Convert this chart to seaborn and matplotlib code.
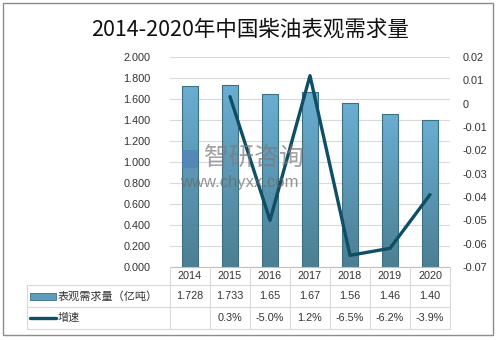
import numpy as np
import pandas as pd
import matplotlib
matplotlib.use("Agg")
import matplotlib.pyplot as plt
import seaborn as sns
from matplotlib.patches import Rectangle
from matplotlib.lines import Line2D

years = ["2014", "2015", "2016", "2017", "2018", "2019", "2020"]
demand = [1.728, 1.733, 1.65, 1.67, 1.56, 1.46, 1.40]
growth = [np.nan, 0.003, -0.050, 0.012, -0.065, -0.062, -0.039]
demand_labels = ["1.728", "1.733", "1.65", "1.67", "1.56", "1.46", "1.40"]
growth_labels = ["", "0.3%", "-5.0%", "1.2%", "-6.5%", "-6.2%", "-3.9%"]
left_ticks = [0.0, 0.2, 0.4, 0.6, 0.8, 1.0, 1.2, 1.4, 1.6, 1.8, 2.0]
right_ticks = [-0.07, -0.06, -0.05, -0.04, -0.03, -0.02, -0.01, 0.0, 0.01, 0.02]
right_tick_labels = ["-0.07", "-0.06", "-0.05", "-0.04", "-0.03", "-0.02", "-0.01", "0", "0.01", "0.02"]
title = "2014-2020年中国柴油表观需求量"
series_names = ["表观需求量（亿吨）", "增速"]

sns.set_theme(style="white")
plt.rcParams['font.family'] = ['Liberation Sans', 'Noto Sans CJK SC', 'DejaVu Sans']

W, H = 498, 340
fig = plt.figure(figsize=(W / 100, H / 100), dpi=100)

def fx(px):
    return px / W

def fy(py):
    return 1 - py / H

txt_c = "#333333"
ax_l, ax_r, ax_t, ax_b = 170, 450, 57, 267
ax = fig.add_axes([fx(ax_l), fy(ax_b), fx(ax_r - ax_l), (ax_b - ax_t) / H])

df = pd.DataFrame({"year": years, "demand": demand, "growth": growth})
bar_color = "#5b9bb8"
sns.barplot(data=df, x="year", y="demand", ax=ax, color=bar_color, width=0.42,
            edgecolor="#3d6f82", linewidth=0.8, saturation=1)

# gradient fill
grad = np.linspace(0, 1, 256).reshape(-1, 1)
cmap = matplotlib.colors.LinearSegmentedColormap.from_list("g", ["#4c7f93", "#6aaed3"])
for p in ax.patches:
    x0, y0 = p.get_x(), p.get_y()
    w, h = p.get_width(), p.get_height()
    im = ax.imshow(grad, extent=[x0, x0 + w, y0, y0 + h], origin="lower",
                   cmap=cmap, aspect="auto", zorder=p.get_zorder() + 0.1)
    im.set_clip_path(p)
    p.set_facecolor("none")
    p.set_zorder(p.get_zorder() + 0.2)

ax.set_xlim(-0.5, 6.5)
ax.set_ylim(0, 2.0)
ax.set_yticks(left_ticks)
ax.set_yticklabels([f"{v:.3f}" for v in left_ticks], fontsize=7.8, color=txt_c)
ax.tick_params(axis="y", length=0, pad=14)
ax.set_xticks([])
ax.set_xlabel("")
ax.set_ylabel("")
ax.yaxis.grid(True, color="#d9d9d9", linewidth=0.8)
ax.set_axisbelow(True)
for s in ["left", "right", "top"]:
    ax.spines[s].set_visible(False)
ax.spines["bottom"].set_color("#bfbfbf")
ax.spines["bottom"].set_linewidth(0.8)

ax2 = ax.twinx()
sns.lineplot(data=df, x="year", y="growth", ax=ax2, color="#0f4f66", linewidth=2.4)
ax2.set_ylim(-0.07, 0.02)
ax2.set_yticks(right_ticks)
ax2.set_yticklabels(right_tick_labels, fontsize=7.8, color=txt_c)
ax2.tick_params(axis="y", length=0, pad=9)
ax2.set_xlabel("")
ax2.set_ylabel("")
ax2.grid(False)
for s in ax2.spines.values():
    s.set_visible(False)

# Title
fig.text(fx(250), fy(30), title, ha="center", va="center", fontsize=15.5,
         family=["Noto Sans CJK SC"], color="#111111")

# Watermark
fig.text(fx(204), fy(158), "智研咨询", ha="left", va="center", fontsize=18,
         family=["Noto Sans CJK SC"], color="#7a7a7a", alpha=0.7, zorder=5)
fig.text(fx(180), fy(183), "www.chyxx.com", ha="left", va="center", fontsize=12,
         color="#6a6a6a", alpha=0.7, zorder=5)
fig.patches.append(Rectangle((fx(182), fy(168)), fx(16), 18 / H, transform=fig.transFigure,
                             facecolor="#4f80b8", alpha=0.7, edgecolor="none", zorder=5))

# Data table
grid_c = "#d9d9d9"
col_w = (ax_r - ax_l) / len(years)

def hline(y, x0, x1):
    fig.add_artist(Line2D([fx(x0), fx(x1)], [fy(y), fy(y)], color=grid_c, lw=0.8,
                          transform=fig.transFigure))

def vline(x, y0, y1):
    fig.add_artist(Line2D([fx(x), fx(x)], [fy(y0), fy(y1)], color=grid_c, lw=0.8,
                          transform=fig.transFigure))

hline(285, 27, ax_r)
hline(307, 27, ax_r)
hline(329, 27, ax_r)
vline(27, 285, 329)
for i in range(len(years) + 1):
    vline(ax_l + i * col_w, 267, 329)

for i, yr in enumerate(years):
    cx = ax_l + (i + 0.5) * col_w
    fig.text(fx(cx), fy(276), yr, ha="center", va="center", fontsize=7.8, color=txt_c)
    fig.text(fx(cx), fy(296), demand_labels[i], ha="center", va="center", fontsize=7.8, color=txt_c)
    fig.text(fx(cx), fy(318), growth_labels[i], ha="center", va="center", fontsize=7.8, color=txt_c)

# legend keys in table
fig.patches.append(Rectangle((fx(30), fy(300)), fx(26), 7 / H, transform=fig.transFigure,
                             facecolor="#5e9dbb", edgecolor="#3d6f82", lw=0.6))
fig.add_artist(Line2D([fx(30), fx(56)], [fy(318), fy(318)], color="#0f4f66", lw=2.4,
                      transform=fig.transFigure))
fig.text(fx(58), fy(296), series_names[0], ha="left", va="center", fontsize=8,
         family=["Noto Sans CJK SC"], color=txt_c)
fig.text(fx(58), fy(318), series_names[1], ha="left", va="center", fontsize=8,
         family=["Noto Sans CJK SC"], color=txt_c)

# outer border
fig.patches.append(Rectangle((fx(3), fy(335)), fx(490), 332 / H, transform=fig.transFigure,
                             facecolor="none", edgecolor="#8c8c8c", lw=1.0))

fig.savefig("out.png", dpi=100)
